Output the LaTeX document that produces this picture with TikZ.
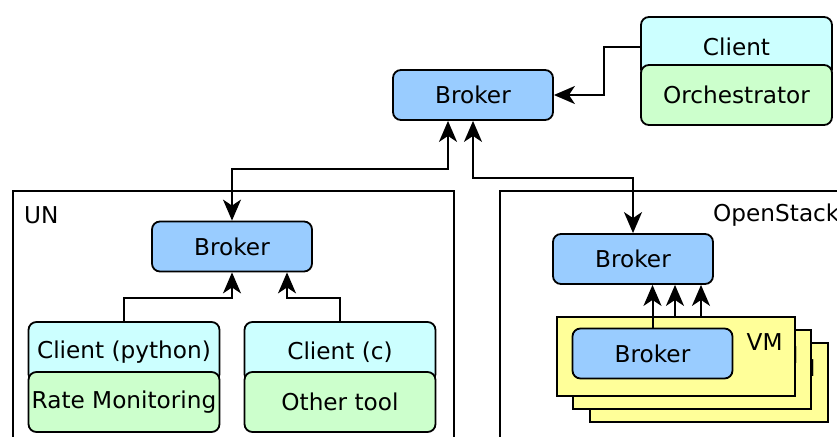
\documentclass[tikz,border=0pt]{standalone}
\usepackage{fontspec}
\setmainfont{DejaVu Sans}
\usetikzlibrary{positioning}
\usetikzlibrary{arrows.meta}
\definecolor{brokerblue}{HTML}{99CCFF}
\definecolor{clientcyan}{HTML}{CCFFFF}
\definecolor{toolgreen}{HTML}{CCFFCC}
\definecolor{vmyellow}{HTML}{FFFF99}
\tikzset{
    box/.style={shape=rectangle,rounded corners=8pt,draw=black,line width=1.8pt,inner sep=0pt},
    broker/.style={box,fill=brokerblue,minimum width=160pt,minimum height=50pt},
    client/.style={box,fill=clientcyan,minimum width=191pt,minimum height=60pt},
    tool/.style={box,fill=toolgreen,minimum width=191pt,minimum height=60pt},
    vmbox/.style={shape=rectangle,draw=black,line width=1.8pt,fill=vmyellow,minimum width=238pt,minimum height=79pt,anchor=north west},
    frame/.style={shape=rectangle,draw=black,line width=1.8pt,anchor=north west},
    arr/.style={-{Stealth[length=21pt, width=18pt, inset=6pt]},line width=2pt},
    arrs/.style={{Stealth[length=21pt, width=18pt, inset=6pt]}-{Stealth[length=21pt, width=18pt, inset=6pt]},line width=2pt}
}
\begin{document}
\begin{tikzpicture}[x=1pt,y=-1pt,font=\fontsize{23.2}{28}\selectfont]
    \useasboundingbox (0,0) rectangle (837,436);

    % domains
    \node[frame,minimum width=441pt,minimum height=270pt] (un) at (12,190) {};
    \node[frame,minimum width=360pt,minimum height=270pt] (os) at (499,190) {};
    \node[anchor=west,inner sep=0pt] (un_label) at (24,215) {UN};
    \node[anchor=west,inner sep=0pt] (os_label) at (713,215) {OpenStack};

    \node[broker] (B) at (473,95) {Broker};
    \node[client] (C_O) at (736.5,47) {Client};
    \node[tool] (O) at (736.5,95) {Orchestrator};

    \node[broker] (B_UN) at (232,246.5) {Broker};
    \node[client] (C_P) at (124,352) {Client (python)};
    \node[tool] (R_M) at (124,402) {Rate Monitoring};
    \node[client] (C_C) at (340,352) {Client (c)};
    \node[tool] (O_T) at (340,402) {Other tool};

    \node[broker] (B_OS) at (633,259) {Broker};
    \node[vmbox] (VM_3) at (589,342) {};
    \node[anchor=east,inner sep=0pt] (VM_3_label) at ([xshift=-13pt,yshift=-26pt]VM_3.north east) {VM};
    \node[vmbox] (VM_2) at (572,329) {};
    \node[anchor=east,inner sep=0pt] (VM_2_label) at ([xshift=-13pt,yshift=-26pt]VM_2.north east) {VM};
    \node[vmbox] (VM_1) at (556,316) {};
    \node[anchor=east,inner sep=0pt] (VM_1_label) at ([xshift=-13pt,yshift=-26pt]VM_1.north east) {VM};
    \node[broker] (B_VM) at (652.5,353.5) {Broker};
    \coordinate (VM_2_out) at ([xshift=119pt]VM_1.north west);
    \coordinate (VM_3_out) at ([xshift=145pt]VM_1.north west);

    \draw [arr] (C_O.west) -- ++(-36,0) |- (B.east);
    \draw [arrs] (B_UN.north) -- ++(0,-51.5) -| ([xshift=-25pt]B.south);
    \draw [arrs] (B.south) -- ++(0,57) -| (B_OS.north);

    \draw [arr] (C_P.north) -- ++(0,-23) -| (B_UN.south);
    \draw [arr] (C_C.north) -- ++(0,-23) -| ([xshift=55pt]B_UN.south);

    \draw [arr] (B_VM.north) -- (B_VM.north |- B_OS.south);
    \draw [arr] (VM_2_out) -- (VM_2_out |- B_OS.south);
    \draw [arr] (VM_3_out) -- (VM_3_out |- B_OS.south);
\end{tikzpicture}
\end{document}
